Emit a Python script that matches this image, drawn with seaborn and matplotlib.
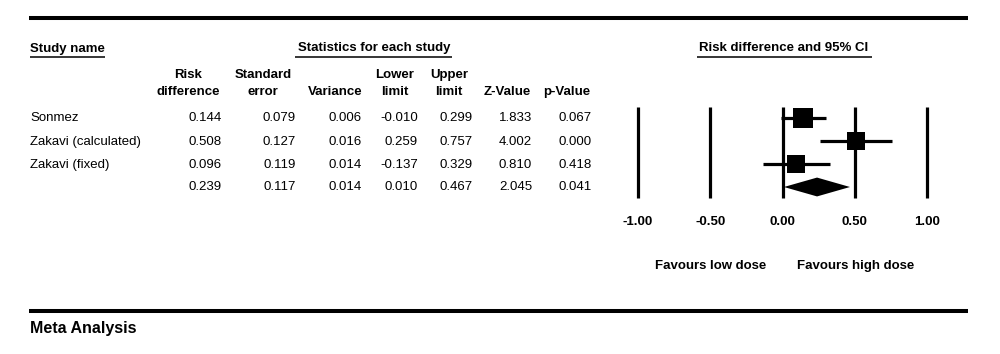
import matplotlib.pyplot as plt
import matplotlib.lines as mlines
import pandas as pd
import seaborn as sns

studies = ["Sonmez", "Zakavi (calculated)", "Zakavi (fixed)", ""]
risk_diff = [0.144, 0.508, 0.096, 0.239]
std_err = [0.079, 0.127, 0.119, 0.117]
variance = [0.006, 0.016, 0.014, 0.014]
lower = [-0.010, 0.259, -0.137, 0.010]
upper = [0.299, 0.757, 0.329, 0.467]
z_value = [1.833, 4.002, 0.810, 2.045]
p_value = [0.067, 0.000, 0.418, 0.041]
ticks = [-1.00, -0.50, 0.00, 0.50, 1.00]

W, H = 1000, 354
FS = 9.5


def fx(px):
    return px / W


def fy(py):
    return 1 - py / H


def hline(fig, x0, x1, y, lw):
    fig.add_artist(mlines.Line2D([fx(x0), fx(x1)], [fy(y), fy(y)], color="black",
                                 lw=lw, solid_capstyle="butt"))


def main() -> None:
    sns.set_theme(style="white")
    plt.rcParams["font.family"] = ["Liberation Sans", "DejaVu Sans"]
    plt.rcParams["text.color"] = "black"

    fig = plt.figure(figsize=(10, 3.54), dpi=100)

    # thick rules
    hline(fig, 29, 968, 18, 2.9)
    hline(fig, 29, 968, 311, 2.9)
    fig.text(fx(30), fy(329), "Meta Analysis", fontsize=11.5, fontweight="bold",
             va="center", ha="left")

    # group headers (underlined)
    fig.text(fx(30), fy(49), "Study name", fontsize=FS, fontweight="bold", va="center", ha="left")
    hline(fig, 30, 105, 57, 1.1)
    fig.text(fx(374), fy(48), "Statistics for each study", fontsize=FS, fontweight="bold",
             va="center", ha="center")
    hline(fig, 295, 452, 57, 1.1)
    fig.text(fx(784), fy(48), "Risk difference and 95% CI", fontsize=FS, fontweight="bold",
             va="center", ha="center")
    hline(fig, 697, 872, 57, 1.1)

    # column headers
    headers = [("Risk", "difference", 188), ("Standard", "error", 263), ("", "Variance", 335),
               ("Lower", "limit", 395), ("Upper", "limit", 449), ("", "Z-Value", 507),
               ("", "p-Value", 567)]
    for top, bot, x in headers:
        if top:
            fig.text(fx(x), fy(75), top, fontsize=FS, fontweight="bold", ha="center", va="center")
        fig.text(fx(x), fy(92), bot, fontsize=FS, fontweight="bold", ha="center", va="center")

    # table body
    row_y = [118, 142, 165, 187]
    col_right = [222, 296, 362, 418, 473, 532, 592]
    cols = [risk_diff, std_err, variance, lower, upper, z_value, p_value]
    for i, name in enumerate(studies):
        fig.text(fx(30), fy(row_y[i]), name, fontsize=FS, ha="left", va="center")
        for xr, col in zip(col_right, cols):
            fig.text(fx(xr), fy(row_y[i]), f"{col[i]:.3f}", fontsize=FS, ha="right", va="center")

    # forest plot axes
    unit = 144.5
    ax = fig.add_axes([fx(610), fy(205), fx(955) - fx(610), (205 - 100) / H])

    ax.vlines(ticks, -0.48, 3.48, color="black", lw=2.3)
    for t in ticks:
        ax.text(t, (222 - 118) / 23, f"{t:.2f}", fontsize=FS, fontweight="bold",
                ha="center", va="center", clip_on=False)

    df = pd.DataFrame({"study": studies[:3], "rd": risk_diff[:3], "lo": lower[:3],
                       "hi": upper[:3], "row": [0, 1, 2],
                       "weight": [1 / v for v in variance[:3]]})
    ax.hlines(df["row"], df["lo"], df["hi"], color="black", lw=2.3)
    sns.scatterplot(data=df, x="rd", y="row", size="weight", sizes=(160, 200), marker="s",
                    color="black", edgecolor="black", linewidth=0, legend=False, ax=ax)

    # summary diamond
    h = 0.41
    ax.fill([lower[3], risk_diff[3], upper[3], risk_diff[3]], [3, 3 - h, 3, 3 + h],
            color="black", lw=0)

    ax.set_xlim(-28 / unit - 1, 1 + 28 / unit)
    ax.set_ylim((205 - 118) / 23, (100 - 118) / 23)
    ax.axis("off")

    fig.text(fx(711), fy(266), "Favours low dose", fontsize=FS, fontweight="bold",
             ha="center", va="center")
    fig.text(fx(856), fy(266), "Favours high dose", fontsize=FS, fontweight="bold",
             ha="center", va="center")

    fig.savefig("out.png", dpi=100, facecolor="white")
    plt.close(fig)


if __name__ == "__main__":
    main()
